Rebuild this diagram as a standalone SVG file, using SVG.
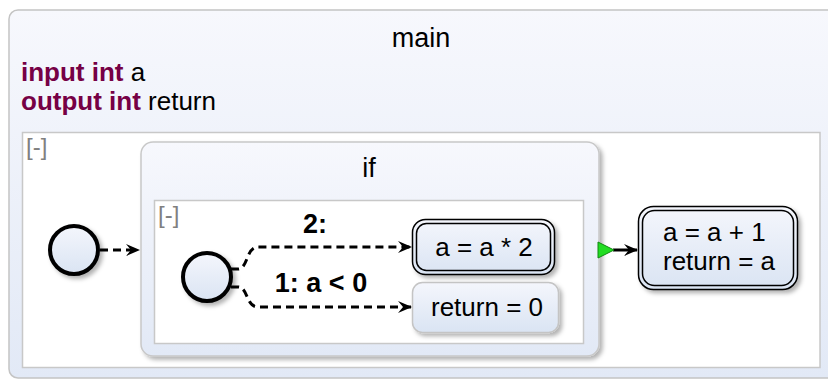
<svg xmlns="http://www.w3.org/2000/svg" width="828" height="380" viewBox="0 0 828 380">
<defs>
<linearGradient id="gOuter" x1="0" y1="0" x2="0" y2="1">
<stop offset="0" stop-color="#f7f8fd"/>
<stop offset="1" stop-color="#e2e9f6"/>
</linearGradient>
<linearGradient id="gNode" x1="0" y1="0" x2="0" y2="1">
<stop offset="0" stop-color="#f4f6fc"/>
<stop offset="1" stop-color="#dae4f3"/>
</linearGradient>
<filter id="sh" x="-10%" y="-10%" width="130%" height="140%">
<feDropShadow dx="3" dy="3" stdDeviation="2" flood-color="#000" flood-opacity="0.3"/>
</filter>
<marker id="arr" viewBox="0 0 14 12" refX="13" refY="6" markerWidth="14" markerHeight="12" markerUnits="userSpaceOnUse" orient="auto">
<path d="M0,0 L14,6 L0,12 L5,6 z" fill="#000"/>
</marker>
<style>
text{font-family:"Liberation Sans",Arial,sans-serif;fill:#000}
.title{font-size:27px}
.t{font-size:26px}
.kw{font-weight:bold;fill:#760045}
.col{font-size:24px;fill:#808080}
.lbl{font-size:27px;font-weight:bold}
.frame{fill:url(#gOuter);stroke:#c4c4c4;stroke-width:1.5}
.region{fill:#fff;stroke:#c8c8c8;stroke-width:1.5}
.node{fill:url(#gNode)}
.edge{fill:none;stroke:#000;stroke-width:3;stroke-dasharray:8 5}
</style>
</defs>

<g id="main">
<rect class="frame" x="9" y="10" width="832" height="368" rx="9"/>
<text class="title" x="421" y="47" text-anchor="middle">main</text>
<text class="t" x="21" y="81"><tspan class="kw">input int</tspan> a</text>
<text class="t" x="21" y="110"><tspan class="kw">output int</tspan> return</text>
<rect class="region" x="22.5" y="132.5" width="797.5" height="235"/>
<text class="col" x="26" y="155">[-]</text>
</g>

<g id="init_main">
<circle cx="74" cy="250" r="24" class="node" stroke="#000" stroke-width="4" filter="url(#sh)"/>
</g>

<g id="if">
<rect x="141" y="142" width="458" height="214" rx="12" fill="url(#gOuter)" stroke="#c8c8c8" stroke-width="1.5" filter="url(#sh)"/>
<text class="title" x="369" y="177" text-anchor="middle">if</text>
<rect class="region" x="154.5" y="200.5" width="429" height="143"/>
<text class="col" x="158" y="223">[-]</text>
</g>

<g id="init_if">
<circle cx="207" cy="277" r="24" class="node" stroke="#000" stroke-width="4" filter="url(#sh)"/>
</g>

<g id="mul">
<rect x="412.5" y="219.5" width="142" height="55" rx="13" class="node" stroke="#000" stroke-width="1.5" filter="url(#sh)"/>
<rect x="416.5" y="223.5" width="134" height="47" rx="10" fill="none" stroke="#000" stroke-width="1.5"/>
<text class="t" x="484" y="256" text-anchor="middle">a = a * 2</text>
</g>

<g id="ret0">
<rect x="412.5" y="282.5" width="146" height="50" rx="10" class="node" stroke="#c4c4c4" stroke-width="1.5" filter="url(#sh)"/>
<text class="t" x="487" y="316" text-anchor="middle">return = 0</text>
</g>

<g id="inc">
<rect x="638.5" y="206.5" width="159" height="83" rx="15" class="node" stroke="#000" stroke-width="1.5" filter="url(#sh)"/>
<rect x="642.5" y="210.5" width="151" height="75" rx="12" fill="none" stroke="#000" stroke-width="1.5"/>
<text class="t" x="663" y="241">a = a + 1</text>
<text class="t" x="663" y="270">return = a</text>
</g>

<g id="connectors">
<path class="edge" d="M100,250 L139,250" marker-end="url(#arr)"/>
<path class="edge" d="M231,269 L238,269 C248,269 246,247 258,247 L411,247" marker-end="url(#arr)"/>
<path class="edge" d="M231,287 L238,287 C248,287 246,307 258,307 L411,307" marker-end="url(#arr)"/>
<text class="lbl" x="315" y="233" text-anchor="middle">2:</text>
<text class="lbl" x="321" y="292" text-anchor="middle">1: a &lt; 0</text>
<path d="M613,250 L637,250" fill="none" stroke="#000" stroke-width="3" marker-end="url(#arr)"/>
<path d="M598,242 L614,250 L598,258 z" fill="#22dd22" stroke="#118811" stroke-width="1"/>
</g>
</svg>
